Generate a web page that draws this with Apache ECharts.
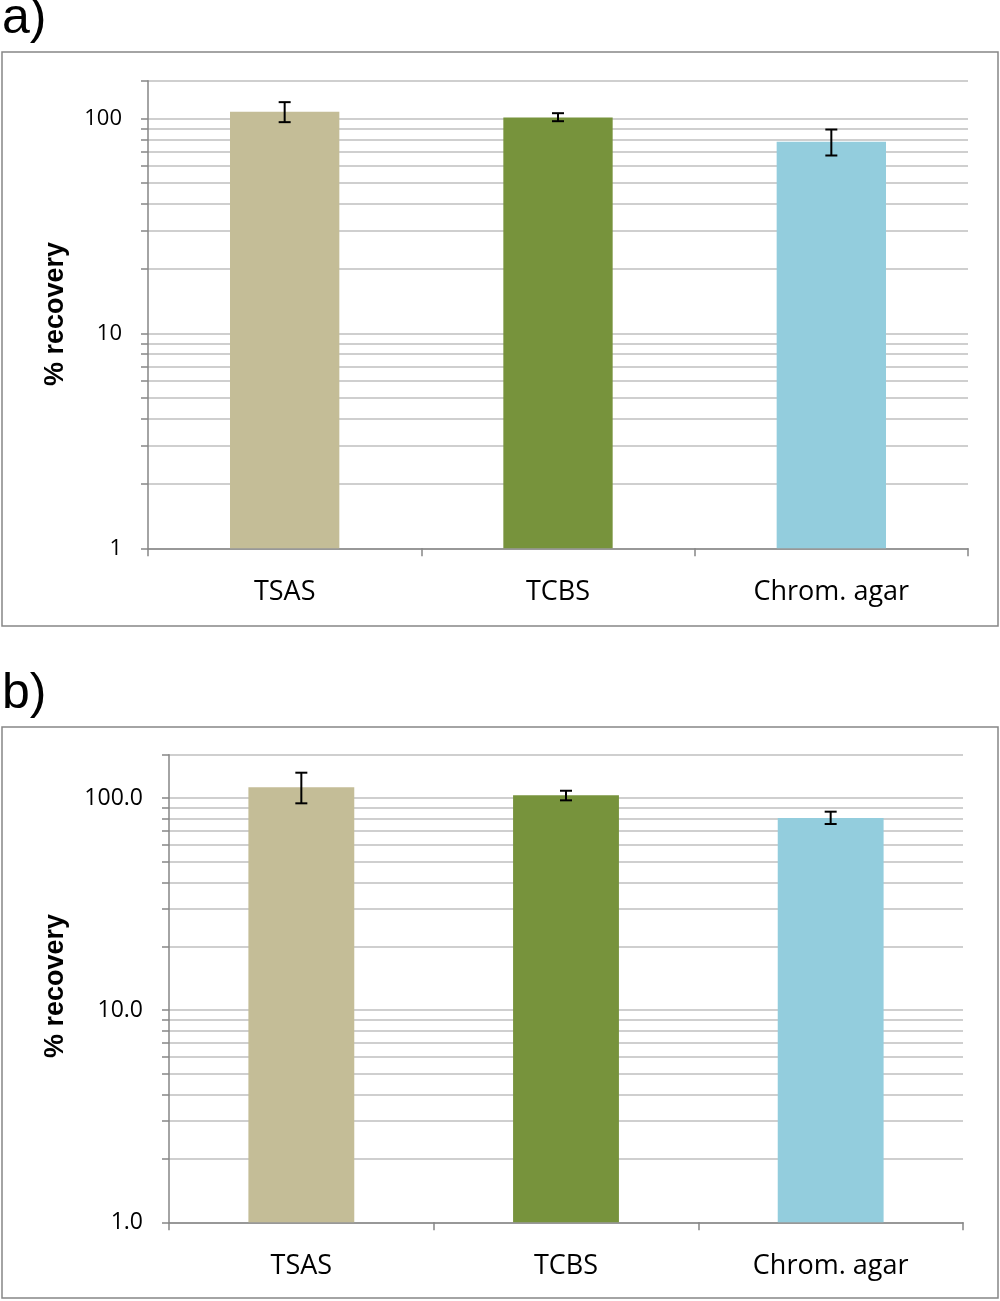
<!DOCTYPE html>
<html>
<head>
<meta charset="utf-8">
<script src="https://cdn.jsdelivr.net/npm/echarts@6/dist/echarts.min.js"></script>
<style>html,body{margin:0;padding:0;background:#fff}#c{width:1000px;height:1301px}</style>
</head>
<body>
<div id="c"></div>
<script>
const categories = ['TSAS', 'TCBS', 'Chrom. agar'];
const colors = ['#C4BD97', '#77933C', '#93CDDD'];
// panel a
const valuesA = [107.5, 101.1, 77.9];
const errLowA = [96.2, 97.2, 67.3];
const errHighA = [119.2, 105.9, 88.9];
const maxA = 150;
// panel b
const valuesB = [112.3, 103.0, 80.5];
const errLowB = [94.4, 97.5, 75.4];
const errHighB = [131.6, 108.2, 86.2];
const maxB = 160;
const majorTicks = [1, 10, 100];
const minorTicks = [1,2,3,4,5,6,7,8,9,10,20,30,40,50,60,70,80,90,100];

const chart = echarts.init(document.getElementById('c'), null, {renderer: 'canvas'});
const axisGray = '#868686';
const gridGray = '#BFBFBF';

function yAxis(idx, max, fontSize, fmt) {
  return {
    type: 'log', logBase: 10, gridIndex: idx, min: 1, max: max,
    axisLine: {show: true, lineStyle: {color: axisGray, width: 1.5}},
    axisTick: {show: true, length: 7, lineStyle: {color: axisGray, width: 1.5}, customValues: minorTicks.concat([max])},
    splitLine: {show: true, lineStyle: {color: gridGray, width: 1.5}},
    minorTick: {show: false}, minorSplitLine: {show: false},
    axisLabel: {customValues: majorTicks, margin: 26, color: '#000', fontFamily: 'Open Sans', fontSize: fontSize, formatter: fmt}
  };
}
function xAxis(idx) {
  return {
    type: 'category', gridIndex: idx, data: categories, boundaryGap: true,
    axisLine: {show: true, lineStyle: {color: axisGray, width: 1.5}},
    axisTick: {show: true, length: 8, alignWithLabel: false, lineStyle: {color: axisGray, width: 1.5}},
    axisLabel: {margin: 31, color: '#000', fontFamily: 'Open Sans', fontSize: 27},
    splitLine: {show: false}
  };
}
function barSeries(idx, vals) {
  return {
    type: 'bar', xAxisIndex: idx, yAxisIndex: idx, barWidth: '40%',
    data: vals.map((v, i) => ({value: v, itemStyle: {color: colors[i]}})),
    silent: true, z: 3
  };
}
function errSeries(idx, lo, hi) {
  return {
    type: 'custom', xAxisIndex: idx, yAxisIndex: idx, z: 5, silent: true,
    data: lo.map((l, i) => [i, l, hi[i]]),
    renderItem: function (params, api) {
      const x = api.value(0);
      const pLo = api.coord([x, api.value(1)]);
      const pHi = api.coord([x, api.value(2)]);
      const hw = 6;
      const st = {stroke: '#000', lineWidth: 2};
      return {type: 'group', children: [
        {type: 'line', shape: {x1: pLo[0], y1: pLo[1], x2: pHi[0], y2: pHi[1]}, style: st},
        {type: 'line', shape: {x1: pHi[0] - hw, y1: pHi[1], x2: pHi[0] + hw, y2: pHi[1]}, style: st},
        {type: 'line', shape: {x1: pLo[0] - hw, y1: pLo[1], x2: pLo[0] + hw, y2: pLo[1]}, style: st}
      ]};
    }
  };
}

const option = {
  animation: false,
  backgroundColor: '#fff',
  grid: [
    {left: 148, top: 80.7, width: 820, height: 467.6, containLabel: false},
    {left: 169, top: 754.7, width: 794, height: 467.6, containLabel: false}
  ],
  xAxis: [xAxis(0), xAxis(1)],
  yAxis: [
    yAxis(0, maxA, 22, v => String(Math.round(v))),
    yAxis(1, maxB, 23, v => Number(v).toFixed(1))
  ],
  series: [
    barSeries(0, valuesA), errSeries(0, errLowA, errHighA),
    barSeries(1, valuesB), errSeries(1, errLowB, errHighB)
  ],
  graphic: [
    {type: 'rect', shape: {x: 2, y: 52, width: 996, height: 574}, style: {fill: 'none', stroke: axisGray, lineWidth: 1.5}, silent: true},
    {type: 'rect', shape: {x: 2, y: 727, width: 996, height: 571}, style: {fill: 'none', stroke: axisGray, lineWidth: 1.5}, silent: true},
    {type: 'text', x: 2, y: -6, style: {text: 'a)', font: '50px "Liberation Sans"', fill: '#000', textAlign: 'left', textVerticalAlign: 'top'}, silent: true},
    {type: 'text', x: 2, y: 669, style: {text: 'b)', font: '50px "Liberation Sans"', fill: '#000', textAlign: 'left', textVerticalAlign: 'top'}, silent: true},
    {type: 'text', x: 56, y: 314, rotation: Math.PI / 2, style: {text: '% recovery', font: 'bold 27px "Liberation Sans"', fill: '#000', textAlign: 'center', textVerticalAlign: 'middle'}, silent: true},
    {type: 'text', x: 56, y: 986, rotation: Math.PI / 2, style: {text: '% recovery', font: 'bold 27px "Liberation Sans"', fill: '#000', textAlign: 'center', textVerticalAlign: 'middle'}, silent: true}
  ]
};
chart.setOption(option);
</script>
</body>
</html>
